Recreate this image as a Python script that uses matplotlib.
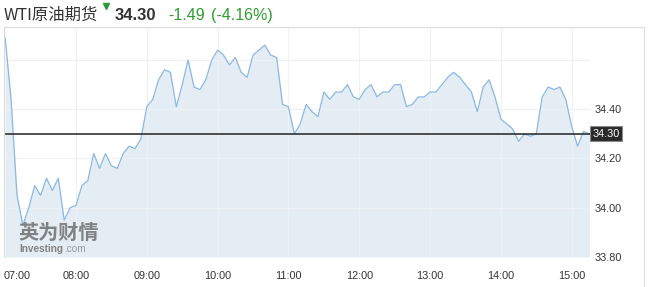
import numpy as np
import pandas as pd
import matplotlib
matplotlib.use("Agg")
import matplotlib.pyplot as plt
from matplotlib.lines import Line2D
from matplotlib.transforms import blended_transform_factory

# WTI crude futures, 5-minute closes from 07:00
prices = [
    34.69, 34.44, 34.05, 33.93, 34.00, 34.09, 34.05, 34.12, 34.07, 34.12,
    33.95, 34.00, 34.01, 34.09, 34.11, 34.22, 34.16, 34.22, 34.17, 34.16,
    34.22, 34.25, 34.24, 34.28, 34.41, 34.44, 34.52, 34.56, 34.55, 34.41,
    34.50, 34.60, 34.49, 34.48, 34.52, 34.60, 34.64, 34.62, 34.58, 34.61,
    34.55, 34.53, 34.62, 34.64, 34.66, 34.62, 34.61, 34.42, 34.41, 34.30,
    34.34, 34.42, 34.39, 34.37, 34.47, 34.44, 34.47, 34.47, 34.50, 34.45,
    34.44, 34.48, 34.50, 34.45, 34.47, 34.47, 34.50, 34.50, 34.41, 34.42,
    34.45, 34.45, 34.47, 34.47, 34.50, 34.53, 34.55, 34.53, 34.50, 34.47,
    34.39, 34.49, 34.52, 34.45, 34.36, 34.34, 34.32, 34.27, 34.30, 34.29,
    34.30, 34.45, 34.49, 34.48, 34.49, 34.44, 34.33, 34.25, 34.31, 34.30,
]
last_price = 34.30
change = "-1.49"
change_pct = "(-4.16%)"
ytick_vals = [33.8, 34.0, 34.2, 34.4, 34.6]
ytick_labels = ["33.80", "34.00", "34.20", "34.40", ""]
hour_labels = ["07:00", "08:00", "09:00", "10:00", "11:00", "12:00", "13:00", "14:00", "15:00"]

times = pd.date_range("2020-03-09 07:00", periods=len(prices), freq="5min")

plt.rcParams["font.family"] = ["Liberation Sans", "DejaVu Sans"]

W, H = 650, 287
fig = plt.figure(figsize=(W / 100, H / 100), dpi=100)
fig.patch.set_facecolor("white")

left, right, top, bottom = 4, 590, 27, 257
ax = fig.add_axes([left / W, 1 - bottom / H, (right - left) / W, (bottom - top) / H])

line_col = "#8ab8e2"
fill_col = "#e4edf3"
grid_col = "#eef1f4"

ax.fill_between(times, prices, 33.8, color=fill_col, lw=0, zorder=1)
ax.plot(times, prices, color=line_col, lw=0.9, zorder=3)
ax.axhline(last_price, color="#222222", lw=1.1, zorder=4)

ax.set_xlim(times[0] - pd.Timedelta(minutes=1), times[-1] + pd.Timedelta(seconds=30))
ax.set_ylim(33.8, 34.734)

# grid
hour_ticks = pd.date_range("2020-03-09 07:00", periods=len(hour_labels), freq="60min")
for t in hour_ticks[1:]:
    ax.axvline(t, color=grid_col, lw=0.8, zorder=2)
for v in ytick_vals:
    ax.axhline(v, color=grid_col, lw=0.8, zorder=2)

for s in ax.spines.values():
    s.set_visible(False)

ax.set_xticks([])
ax.yaxis.tick_right()
ax.set_yticks(ytick_vals)
ax.set_yticklabels(ytick_labels)
ax.tick_params(axis="y", length=0, pad=3, labelsize=7.8, labelcolor="#333333")

# hour labels
tr = blended_transform_factory(ax.transData, ax.transAxes)
for i, (t, lab) in enumerate(zip(hour_ticks, hour_labels)):
    ax.text(t if i else t - pd.Timedelta(minutes=1), -0.062, lab, transform=tr,
            ha="left" if i == 0 else "center", va="top",
            fontsize=7.8, color="#333333")

# current price box
tr2 = blended_transform_factory(ax.transAxes, ax.transData)
ax.text(1.004, last_price, "34.30", transform=tr2, ha="left", va="center",
        fontsize=7.8, color="white", zorder=6,
        bbox=dict(boxstyle="square,pad=0.22", fc="#2a2a2a", ec="#8a8a8a", lw=0.8))

# frame lines
border = "#dcdcdc"
fig.add_artist(Line2D([left / W, 644 / W], [1 - top / H, 1 - top / H], color=border, lw=0.8))
fig.add_artist(Line2D([left / W, left / W], [1 - top / H, 1 - bottom / H], color=border, lw=0.8))
fig.add_artist(Line2D([644 / W, 644 / W], [1 - top / H, 0], color=border, lw=0.8))

# header
green = "#2f9b2f"
cjk = ["Noto Sans CJK SC", "DejaVu Sans"]
fig.text(4 / W, 1 - 20 / H, "WTI原油期货", family=cjk, fontsize=11.8, color="#333333", va="baseline")
fig.text(115 / W, 1 - 20 / H, "34.30", fontsize=12, fontweight="bold", color="#333333", va="baseline")
fig.text(168 / W, 1 - 20 / H, change, fontsize=11.5, color=green, va="baseline")
fig.text(211 / W, 1 - 20 / H, change_pct, fontsize=11.5, color=green, va="baseline")
fig.add_artist(Line2D([106 / W], [1 - 6 / H], marker="v", markersize=5, color="#2a9a3a", lw=0))

# watermark
fig.text(18 / W, 1 - 239 / H, "英为财情", family=cjk, fontsize=14.5, fontweight="bold",
         color="#6f6f6f", alpha=0.85, va="baseline")
fig.text(19 / W, 1 - 252 / H, "Investing", fontsize=7.2, fontweight="bold",
         color="#6f6f6f", alpha=0.85, va="baseline")
fig.text(64 / W, 1 - 252 / H, ".com", fontsize=7.2, color="#8a8a8a", alpha=0.85, va="baseline")

fig.savefig("out.png", dpi=100)
